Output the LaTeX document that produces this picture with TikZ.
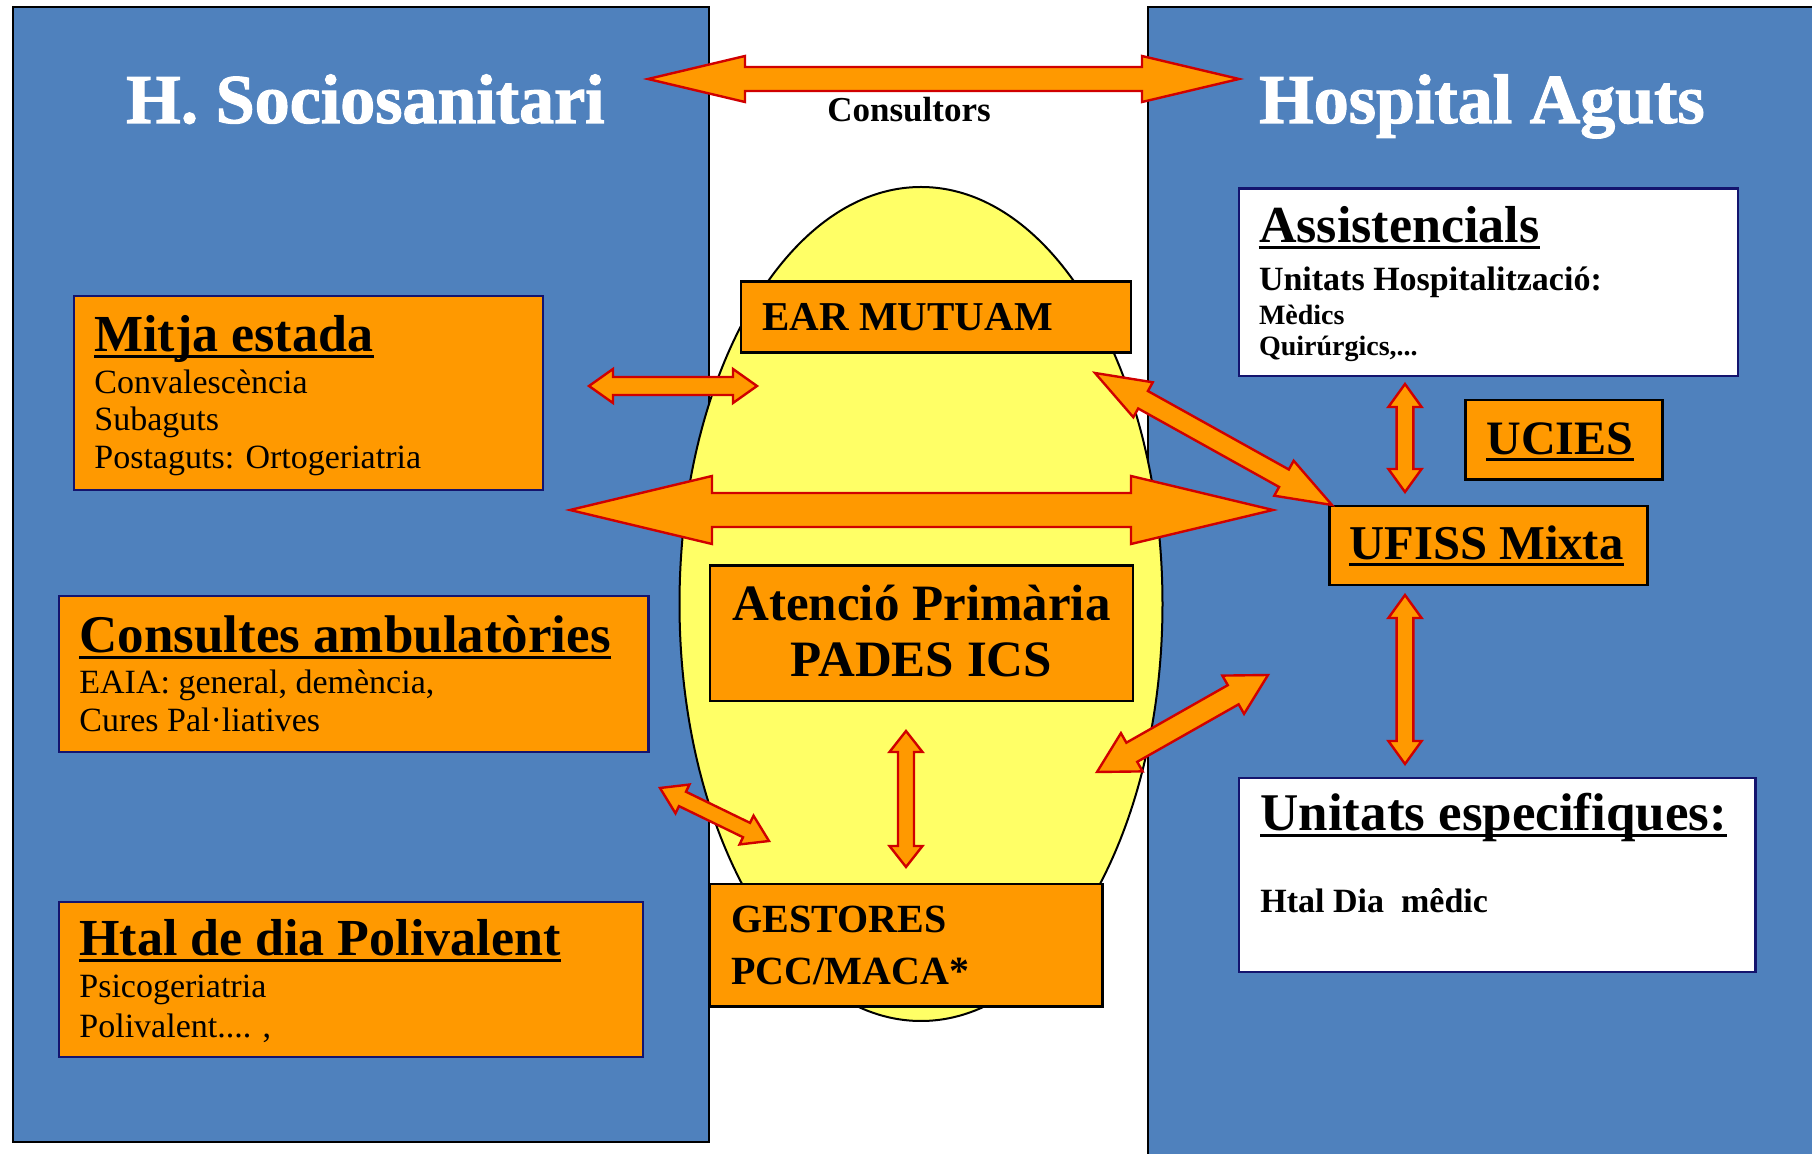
\documentclass[tikz,border=0pt]{standalone}
\usepackage{fontspec}
\setmainfont{Liberation Serif}
\newfontfamily\heavyfont[BoldFeatures={FakeBold=1.6}]{Liberation Serif}
\usetikzlibrary{calc,shapes.geometric}
\definecolor{panelblue}{HTML}{4F81BD}
\definecolor{boxorange}{HTML}{FF9900}
\definecolor{eggyellow}{HTML}{FFFF66}
\definecolor{arrowred}{HTML}{D00000}
\definecolor{navyline}{RGB}{20,20,110}
\newcommand\blockarrow[5]{%
  \draw[barrow] (#1)
   -- ($(#1)!#5pt!(#2)!#4pt!90:(#2)$)
   -- ($(#1)!#5pt!(#2)!#3pt!90:(#2)$)
   -- ($(#2)!#5pt!(#1)!#3pt!-90:(#1)$)
   -- ($(#2)!#5pt!(#1)!#4pt!-90:(#1)$)
   -- (#2)
   -- ($(#2)!#5pt!(#1)!#4pt!90:(#1)$)
   -- ($(#2)!#5pt!(#1)!#3pt!90:(#1)$)
   -- ($(#1)!#5pt!(#2)!#3pt!-90:(#2)$)
   -- ($(#1)!#5pt!(#2)!#4pt!-90:(#2)$)
   -- cycle;}
\newcommand\ulthis[1]{\draw[line width=1.4pt] ([yshift=-2.4pt]#1.base west) -- ([yshift=-2.4pt]#1.base east);}
\tikzset{
  panel/.style={draw=black, line width=1pt, fill=panelblue, inner sep=0pt},
  obox/.style={draw=black, line width=1.3pt, fill=boxorange, inner sep=0pt},
  nbox/.style={draw=navyline, line width=1.3pt, fill=boxorange, inner sep=0pt},
  wbox/.style={draw=navyline, line width=1.3pt, fill=white, inner sep=0pt},
  barrow/.style={draw=arrowred, line width=1.2pt, fill=boxorange, line join=miter},
  txt/.style={inner sep=0pt, anchor=base west},
  ctxt/.style={inner sep=0pt, anchor=base},
  bigtitle/.style={font=\heavyfont\bfseries\fontsize{35}{40}\selectfont, text=white},
  sect/.style={font=\bfseries\fontsize{26}{30}\selectfont},
  body/.style={font=\fontsize{17}{20}\selectfont},
  bbody/.style={font=\bfseries\fontsize{17}{20}\selectfont},
  sbody/.style={font=\bfseries\fontsize{14}{17}\selectfont},
  mid/.style={font=\bfseries\fontsize{20.5}{24}\selectfont},
}
\begin{document}
\begin{tikzpicture}[x=0.5pt, y=-0.5pt]
\useasboundingbox (0,0) rectangle (1812,1154);
\clip (0,0) rectangle (1812,1154);
\fill[white] (0,0) rectangle (1812,1154);

% panels
\node[panel, minimum width=348pt, minimum height=567.5pt] (leftpanel) at (361,574.5) {};
\node[panel, minimum width=341pt, minimum height=584pt] (rightpanel) at (1489,591) {};

% yellow egg
\node[draw=black, line width=1pt, fill=eggyellow, ellipse, inner sep=0pt,
      minimum width=241.5pt, minimum height=417pt] (egg) at (921,604) {};

% titles
\node[ctxt, bigtitle] (tleft) at (365.5,123) {H. Sociosanitari};
\node[ctxt, bigtitle] (tright) at (1482,123) {Hospital Aguts};
\node[ctxt, font=\bfseries\fontsize{17.5}{20}\selectfont] (consultors) at (909,121.7) {Consultors};

% left boxes
\node[nbox, minimum width=234.5pt, minimum height=97pt] (mitja) at (308.5,393) {};
\node[txt, sect] (mitjaT) at (94,351.5) {Mitja estada};
\node[txt, body] (mitja1) at (94,394) {Convalescència};
\node[txt, body] (mitja2) at (94,431) {Subaguts};
\node[txt, body] (mitja3) at (94,469) {Postaguts: Ortogeriatria};

\node[nbox, minimum width=294.75pt, minimum height=78pt] (consultes) at (353.75,674) {};
\node[txt, font=\bfseries\fontsize{26.5}{30}\selectfont] (consT) at (79,652.5) {Consultes ambulatòries};
\node[txt, body] (cons1) at (79,694) {EAIA: general, demència,};
\node[txt, body] (cons2) at (79,731.6) {Cures Pal·liatives};

\node[nbox, minimum width=292pt, minimum height=77.5pt] (htal) at (351,979.5) {};
\node[txt, sect] (htalT) at (79,956) {Htal de dia Polivalent};
\node[txt, body] (htal1) at (79,998) {Psicogeriatria};
\node[txt, body] (htal2) at (79,1037) {Polivalent.... ,};

% middle boxes
\node[obox, minimum width=195pt, minimum height=35.5pt] (ear) at (936,317) {};
\node[txt, mid] (earT) at (762,330.5) {EAR MUTUAM};

\node[obox, minimum width=211.5pt, minimum height=67.7pt] (atencio) at (921.5,633.3) {};
\node[ctxt, font=\bfseries\fontsize{25.5}{30}\selectfont] (at1) at (921.5,620.4) {Atenció Primària};
\node[ctxt, font=\bfseries\fontsize{25.5}{30}\selectfont] (at2) at (921.5,677) {PADES ICS};

\node[obox, minimum width=196.25pt, minimum height=61.25pt] (gestores) at (906.25,945.25) {};
\node[txt, font=\bfseries\fontsize{20}{24}\selectfont] (ges1) at (731,933) {GESTORES};
\node[txt, font=\bfseries\fontsize{20}{24}\selectfont] (ges2) at (731,985) {PCC/MACA*};

% right boxes
\node[wbox, minimum width=249.5pt, minimum height=93.8pt] (assist) at (1488.5,282.2) {};
\node[txt, sect] (assT) at (1258.6,243) {Assistencials};
\node[txt, bbody] (ass1) at (1258.6,291) {Unitats Hospitalització:};
\node[txt, sbody] (ass2) at (1258.6,324.6) {Mèdics};
\node[txt, sbody] (ass3) at (1258.6,356) {Quirúrgics,...};

\node[obox, minimum width=98.5pt, minimum height=39.75pt] (ucies) at (1564,439.75) {};
\node[txt, font=\bfseries\fontsize{24}{28}\selectfont] (uciesT) at (1486,455) {UCIES};

\node[obox, minimum width=159pt, minimum height=39.5pt] (ufiss) at (1488.65,545.5) {};
\node[txt, font=\bfseries\fontsize{24.3}{28}\selectfont] (ufissT) at (1349,559.4) {UFISS Mixta};

\node[wbox, minimum width=258.35pt, minimum height=97pt] (unitats) at (1497.35,875) {};
\node[txt, font=\bfseries\fontsize{26.5}{30}\selectfont] (uniT) at (1260,831) {Unitats especifiques:};
\node[txt, bbody] (uni1) at (1260,912.6) {Htal Dia\ \ mêdic};

% underlines
\ulthis{mitjaT}
\ulthis{consT}
\ulthis{htalT}
\ulthis{assT}
\ulthis{uciesT}
\ulthis{ufissT}
\ulthis{uniT}

% arrow end points
\coordinate (c1) at (648,79);   \coordinate (c2) at (1239,79);
\coordinate (m1) at (589,386);  \coordinate (m2) at (757,386);
\coordinate (b1) at (570,510);  \coordinate (b2) at (1273,510);
\coordinate (d1) at (1095,373); \coordinate (d2) at (1332,505);
\coordinate (v1) at (1405,384); \coordinate (v2) at (1405,492);
\coordinate (w1) at (1405,595); \coordinate (w2) at (1405,764);
\coordinate (e1) at (1097,772); \coordinate (e2) at (1268,675);
\coordinate (g1) at (906,731);  \coordinate (g2) at (906,867);
\coordinate (s1) at (660,788);  \coordinate (s2) at (769,841);

\blockarrow{c1}{c2}{6}{11.5}{48.5}
\blockarrow{m1}{m2}{4.5}{8.5}{12}
\blockarrow{b1}{b2}{8.5}{17}{71}
\blockarrow{d1}{d2}{5}{10}{27.5}
\blockarrow{v1}{v2}{4.2}{8.3}{11.5}
\blockarrow{w1}{w2}{4.2}{8.3}{11.5}
\blockarrow{e1}{e2}{5.5}{11}{20}
\blockarrow{g1}{g2}{4}{8.25}{10.5}
\blockarrow{s1}{s2}{4}{8}{12.5}
\end{tikzpicture}
\end{document}
